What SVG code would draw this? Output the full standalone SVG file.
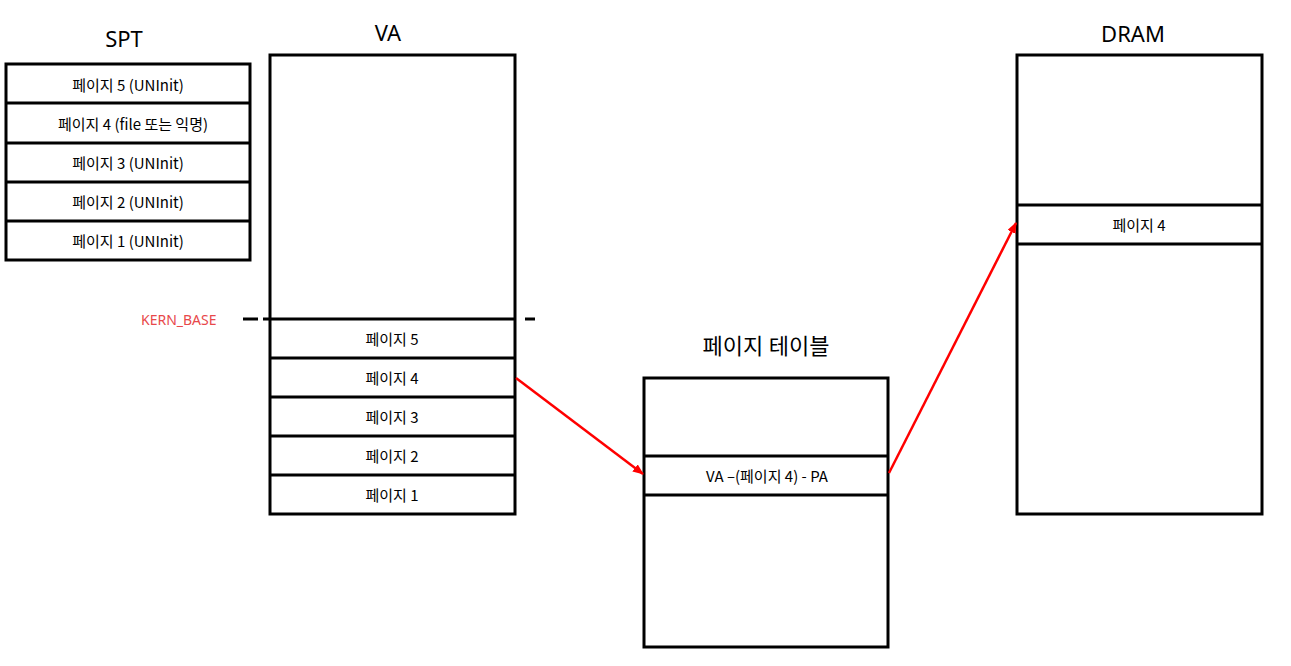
<svg xmlns="http://www.w3.org/2000/svg" width="1291" height="666" viewBox="0 0 1291 666">
<style>
.box{fill:#fff;stroke:#000;stroke-width:3}
.sep{stroke:#000;stroke-width:3}
.t{font-family:"Noto Sans CJK KR","Noto Sans",sans-serif;font-size:15px;fill:#000;text-anchor:middle;dominant-baseline:central}
.title{font-family:"Noto Sans","Noto Sans CJK KR",sans-serif;font-size:22px;fill:#000;text-anchor:middle;dominant-baseline:central}
.kern{font-family:"Noto Sans",sans-serif;font-size:14px;fill:#e8484a;dominant-baseline:central}
.dash{stroke:#000;stroke-width:3;stroke-dasharray:15 5}
.arr{stroke:#f00;stroke-width:2.5;fill:none;marker-end:url(#ah)}
</style>
<defs>
<marker id="ah" markerWidth="11" markerHeight="9" refX="10" refY="4.5" orient="auto" markerUnits="userSpaceOnUse">
<path d="M0,0 L11,4.5 L0,9 z" fill="#f00"/>
</marker>
</defs>
<rect width="1291" height="666" fill="#fff"/>
<g id="spt">
<text class="title" x="124" y="38">SPT</text>
<rect class="box" x="6" y="64" width="244" height="196"/>
<line class="sep" x1="6" y1="103" x2="250" y2="103"/>
<line class="sep" x1="6" y1="143" x2="250" y2="143"/>
<line class="sep" x1="6" y1="182" x2="250" y2="182"/>
<line class="sep" x1="6" y1="221" x2="250" y2="221"/>
<text class="t" x="128" y="84">페이지 5 (UNInit)</text>
<text class="t" x="133" y="123">페이지 4 (file 또는 익명)</text>
<text class="t" x="128" y="162">페이지 3 (UNInit)</text>
<text class="t" x="128" y="201">페이지 2 (UNInit)</text>
<text class="t" x="128" y="240">페이지 1 (UNInit)</text>
</g>
<g id="kern_base">
<text class="kern" x="141" y="319">KERN_BASE</text>
<line class="dash" x1="243" y1="319" x2="270" y2="319"/>
<line class="sep" x1="525" y1="319" x2="535" y2="319"/>
</g>
<g id="va">
<text class="title" x="388" y="32">VA</text>
<rect class="box" x="270" y="55" width="245" height="459"/>
<line class="sep" x1="270" y1="319" x2="515" y2="319"/>
<line class="sep" x1="270" y1="358" x2="515" y2="358"/>
<line class="sep" x1="270" y1="397" x2="515" y2="397"/>
<line class="sep" x1="270" y1="436" x2="515" y2="436"/>
<line class="sep" x1="270" y1="475" x2="515" y2="475"/>
<text class="t" x="392" y="338">페이지 5</text>
<text class="t" x="392" y="377">페이지 4</text>
<text class="t" x="392" y="416">페이지 3</text>
<text class="t" x="392" y="455">페이지 2</text>
<text class="t" x="392" y="494">페이지 1</text>
</g>
<g id="page_table">
<text class="title" x="766" y="345">페이지 테이블</text>
<rect class="box" x="644" y="378" width="244" height="269"/>
<line class="sep" x1="644" y1="456" x2="888" y2="456"/>
<line class="sep" x1="644" y1="495" x2="888" y2="495"/>
<text class="t" x="767" y="475">VA –(페이지 4) - PA</text>
</g>
<g id="dram">
<text class="title" x="1133" y="33">DRAM</text>
<rect class="box" x="1017" y="55" width="245" height="459"/>
<line class="sep" x1="1017" y1="205" x2="1262" y2="205"/>
<line class="sep" x1="1017" y1="244" x2="1262" y2="244"/>
<text class="t" x="1139" y="224">페이지 4</text>
</g>
<g id="connectors">
<line class="arr" x1="516" y1="378" x2="643" y2="474"/>
<line class="arr" x1="889" y1="473" x2="1016" y2="223"/>
</g>
</svg>
